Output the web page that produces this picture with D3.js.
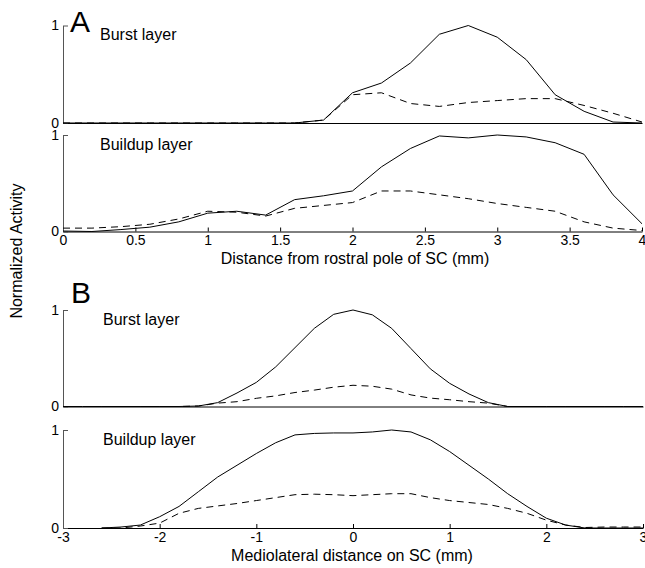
<!DOCTYPE html>
<html><head><meta charset="utf-8">
<script src="https://cdn.jsdelivr.net/npm/d3@7"></script>
<style>
body{margin:0;background:#fff;}
svg text{font-family:"Liberation Sans",Arial,Helvetica,sans-serif;fill:#000;}
</style></head><body>
<svg id="c" width="645" height="568"></svg>
<script>
// Panel A: distance from rostral pole (mm)
const xA = [0,0.2,0.4,0.6,0.8,1.0,1.2,1.4,1.6,1.8,2.0,2.2,2.4,2.6,2.8,3.0,3.2,3.4,3.6,3.8,4.0];
const burstA_solid  = [0,0,0,0,0,0,0,0,0,0.03,0.31,0.41,0.615,0.91,1.0,0.88,0.65,0.29,0.12,0.01,0];
const burstA_dashed = [0,0,0,0,0,0,0,0,0,0.03,0.29,0.31,0.20,0.17,0.21,0.23,0.25,0.25,0.18,0.10,0.01];
const buildA_solid  = [0.005,0.0,0.02,0.045,0.10,0.19,0.21,0.17,0.33,0.37,0.42,0.67,0.86,0.99,0.97,1.0,0.98,0.92,0.80,0.38,0.08];
const buildA_dashed = [0.035,0.035,0.05,0.075,0.13,0.21,0.20,0.16,0.24,0.27,0.30,0.42,0.42,0.38,0.34,0.29,0.25,0.21,0.10,0.035,0.01];
const ticksA = [0,0.5,1,1.5,2,2.5,3,3.5,4];
const tickLabelsA = ["0","0.5","1","1.5","2","2.5","3","3.5","4"];

// Panel B: mediolateral distance (mm)
const xB = [-3,-2.8,-2.6,-2.4,-2.2,-2.0,-1.8,-1.6,-1.4,-1.2,-1.0,-0.8,-0.6,-0.4,-0.2,0,0.2,0.4,0.6,0.8,1.0,1.2,1.4,1.6,1.8,2.0,2.2,2.4,2.6,2.8,3.0];
const burstB_solid  = [0,0,0,0,0,0,0,0.005,0.04,0.14,0.25,0.41,0.61,0.81,0.955,1.0,0.95,0.81,0.60,0.39,0.24,0.13,0.04,0.0,0,0,0,0,0,0,0];
const burstB_dashed = [0,0,0,0,0,0,0,0.005,0.035,0.05,0.085,0.11,0.145,0.17,0.20,0.22,0.21,0.18,0.12,0.087,0.07,0.05,0.035,0.0,0,0,0,0,0,0,0];
const buildB_solid  = [null,null,0,0.01,0.03,0.115,0.22,0.37,0.52,0.64,0.76,0.87,0.95,0.965,0.97,0.97,0.98,1.0,0.98,0.90,0.78,0.64,0.50,0.35,0.22,0.10,0.03,0.0,0,0,0];
const buildB_dashed = [null,null,0,0.0,0.02,0.05,0.15,0.20,0.225,0.25,0.28,0.31,0.34,0.345,0.34,0.33,0.34,0.35,0.35,0.31,0.28,0.26,0.24,0.20,0.15,0.08,0.03,0.005,0.01,0.01,0.01];
const ticksB = [-3,-2,-1,0,1,2,3];
const tickLabelsB = ["-3","-2","-1","0","1","2","3"];

const yTicks = [0,1];

const svg = d3.select("#c");
const FS = 14;   // tick labels
const LS = 16;   // other labels

const sxA = d3.scaleLinear().domain([0,4]).range([63,642]);
const sxB = d3.scaleLinear().domain([-3,3]).range([63,643]);

const panels = [
  {sx:sxA, xs:xA, y:[123,25.5], s:burstA_solid, d:burstA_dashed, label:"Burst layer", lx:100, ly:40, xt:null},
  {sx:sxA, xs:xA, y:[231.5,135], s:buildA_solid, d:buildA_dashed, label:"Buildup layer", lx:100, ly:150, xt:[ticksA,tickLabelsA]},
  {sx:sxB, xs:xB, y:[406.5,310], s:burstB_solid, d:burstB_dashed, label:"Burst layer", lx:103, ly:325, xt:null},
  {sx:sxB, xs:xB, y:[528,430], s:buildB_solid, d:buildB_dashed, label:"Buildup layer", lx:103, ly:445, xt:[ticksB,tickLabelsB]},
];

panels.forEach(p=>{
  const sy = d3.scaleLinear().domain([0,1]).range(p.y);
  const g = svg.append("g");
  // x axis
  const ax = d3.axisBottom(p.sx).tickSizeOuter(0).tickSizeInner(-4).tickPadding(3);
  if (p.xt) { ax.tickValues(p.xt[0]).tickFormat((d,i)=>p.xt[1][i]); }
  else { ax.tickValues([]); }
  const gx = g.append("g").attr("transform",`translate(0,${p.y[0]})`).call(ax);
  gx.selectAll("text").attr("font-size",FS).attr("font-family","Liberation Sans, Arial, sans-serif").attr("dy","0.75em");
  gx.selectAll("path,line").attr("stroke","#000").attr("stroke-width",1);
  // y axis
  const ay = d3.axisLeft(sy).tickValues(yTicks).tickFormat(d3.format("d")).tickSizeOuter(0).tickSizeInner(-5).tickPadding(4);
  const gy = g.append("g").attr("transform",`translate(${p.sx.range()[0]},0)`).call(ay);
  gy.selectAll("text").attr("font-size",FS).attr("font-family","Liberation Sans, Arial, sans-serif");
  gy.selectAll("path,line").attr("stroke","#555").attr("stroke-width",1);
  // lines
  const line = d3.line().defined(v=>v[1]!=null).x(v=>p.sx(v[0])).y(v=>sy(v[1]));
  g.append("path").datum(p.xs.map((x,i)=>[x,p.d[i]])).attr("d",line)
    .attr("fill","none").attr("stroke","#000").attr("stroke-width",1).attr("stroke-dasharray","7,5");
  g.append("path").datum(p.xs.map((x,i)=>[x,p.s[i]])).attr("d",line)
    .attr("fill","none").attr("stroke","#000").attr("stroke-width",1);
  g.append("text").attr("x",p.lx).attr("y",p.ly).attr("font-size",LS).text(p.label);
});

svg.append("text").attr("x",70).attr("y",32).attr("font-size",30).text("A");
svg.append("text").attr("x",71).attr("y",303).attr("font-size",30).text("B");

svg.append("text").attr("x",355).attr("y",264).attr("text-anchor","middle").attr("font-size",LS)
  .text("Distance from rostral pole of SC (mm)");
svg.append("text").attr("x",352).attr("y",561).attr("text-anchor","middle").attr("font-size",LS)
  .text("Mediolateral distance on SC (mm)");
svg.append("text").attr("transform","translate(22,251) rotate(-90)").attr("text-anchor","middle").attr("font-size",LS)
  .text("Normalized Activity");
</script>
</body></html>
